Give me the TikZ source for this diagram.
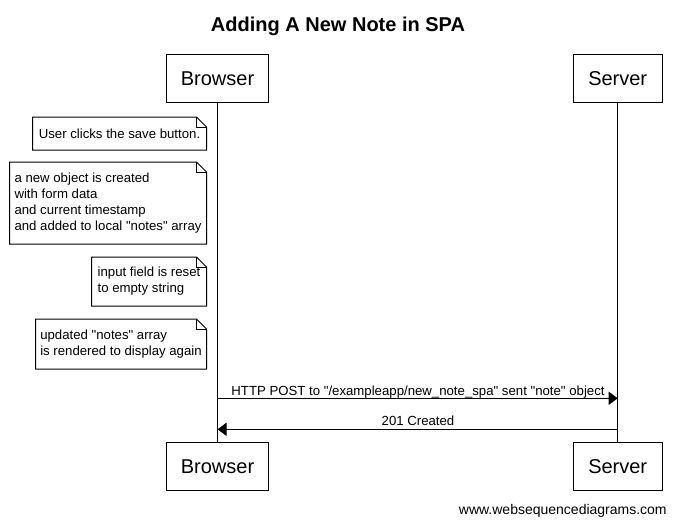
\documentclass[tikz,border=0pt]{standalone}
\usepackage{fontspec}
\setmainfont{Liberation Sans}
\newfontfamily\qfont{Liberation Sans}
\usetikzlibrary{arrows.meta}
\newcommand{\qtmark}{{\qfont\symbol{34}}}
\begin{document}
\begin{tikzpicture}[x=1pt,y=-1pt,line width=1pt,
  actor/.style={draw,inner sep=0pt,minimum height=48pt,font=\fontsize{20}{24}\selectfont,text height=14.3pt,text depth=0pt},
  notebox/.style={inner sep=0pt,align=left,font=\fontsize{13.2}{16}\selectfont},
  msg/.style={-{Triangle[length=9pt,width=13pt]}},
  msglabel/.style={anchor=base,font=\fontsize{13.2}{16}\selectfont,inner sep=0pt}]
\fill[white] (0,0) rectangle (677,525);
\useasboundingbox (0,0) rectangle (677,525);
% title
\node[anchor=base,font=\bfseries\fontsize{20}{24}\selectfont,inner sep=0pt] (title) at (338,31) {Adding A New Note in SPA};
% participants
\node[actor,minimum width=101.5pt] (B1) at (217.5,78) {Browser};
\node[actor,minimum width=88.7pt] (S1) at (617.7,78) {Server};
\node[actor,minimum width=101.5pt] (B2) at (217.5,466.5) {Browser};
\node[actor,minimum width=88.7pt] (S2) at (617.7,466.5) {Server};
\draw (B1.south) -- (B2.north);
\draw (S1.south) -- (S2.north);
% notes
\node[notebox,minimum width=173pt,minimum height=32pt] (n1) at (119.5,133.5) {User clicks the save button.};
\node[notebox,minimum width=196pt,minimum height=81pt] (n2) at (108,203) {a new object is created\\with form data\\and current timestamp\\and added to local \qtmark notes\qtmark{} array};
\node[notebox,minimum width=114pt,minimum height=48pt] (n3) at (149,281.5) {input field is reset\\to empty string};
\node[notebox,minimum width=170pt,minimum height=49pt] (n4) at (121,344) {updated \qtmark notes\qtmark{} array\\is rendered to display again};
\foreach \n in {n1,n2,n3,n4}{
  \draw (\n.north west) -- ([xshift=-10pt]\n.north east) -- ([yshift=-10pt]\n.north east) -- (\n.south east) -- (\n.south west) -- cycle;
  \draw ([xshift=-10pt]\n.north east) -- ([xshift=-10pt,yshift=-10pt]\n.north east) -- ([yshift=-10pt]\n.north east);
}
% messages
\coordinate (b1) at (B1.south |- 0,398.3);
\coordinate (s1) at (S1.south |- 0,398.3);
\coordinate (b2) at (B1.south |- 0,429.3);
\coordinate (s2) at (S1.south |- 0,429.3);
\draw[msg] (b1) -- (s1);
\node[msglabel] (l1) at (418,395) {HTTP POST to \qtmark/exampleapp/new\_note\_spa\qtmark{} sent \qtmark note\qtmark{} object};
\draw[msg] (s2) -- (b2);
\node[msglabel] (l2) at (418,425) {201 Created};
% watermark
\node[anchor=base,font=\fontsize{14}{16}\selectfont,inner sep=0pt] (wm) at (562.8,514.3) {www.websequencediagrams.com};
\end{tikzpicture}
\end{document}
